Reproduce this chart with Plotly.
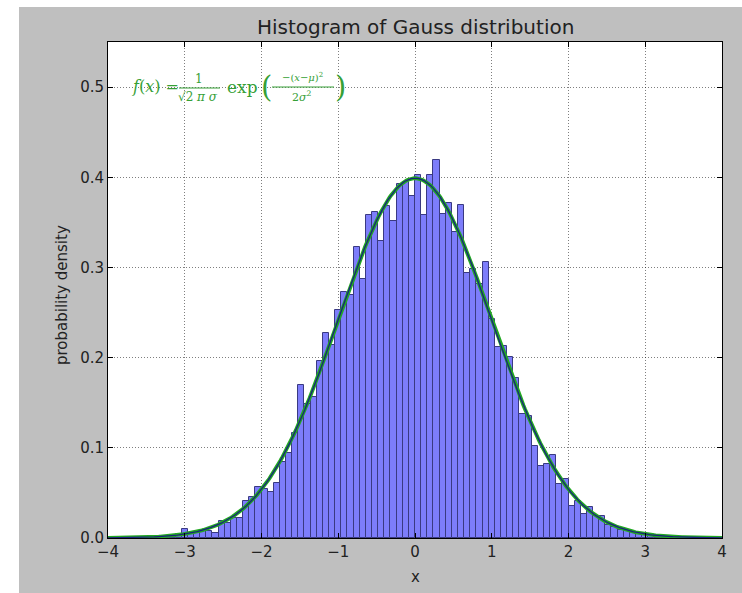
import numpy as np
import plotly.graph_objects as go

# ---------------- data ----------------
bin_start = -4.0
bin_width = 0.08
densities = [
    0, 0, 0, 0, 0, 0, 0, 0, 0.001, 0.001,
    0.002, 0.004, 0.010, 0.005, 0.007, 0.009, 0.008, 0.006, 0.019, 0.017,
    0.022, 0.022, 0.041, 0.046, 0.057, 0.054, 0.051, 0.061, 0.084, 0.094,
    0.116, 0.170, 0.149, 0.156, 0.196, 0.227, 0.214, 0.253, 0.273, 0.270,
    0.323, 0.287, 0.358, 0.361, 0.329, 0.368, 0.352, 0.393, 0.395, 0.379,
    0.402, 0.358, 0.402, 0.419, 0.359, 0.371, 0.339, 0.369, 0.294, 0.298,
    0.282, 0.306, 0.243, 0.212, 0.213, 0.201, 0.177, 0.138, 0.135, 0.102,
    0.080, 0.082, 0.092, 0.060, 0.065, 0.036, 0.041, 0.027, 0.034, 0.024,
    0.024, 0.014, 0.012, 0.009, 0.008, 0.007, 0.005, 0.003, 0.002, 0.001,
    0.001, 0, 0, 0, 0, 0, 0, 0, 0, 0,
]
mu = 0.0
sigma = 1.0
x_ticks = [-4, -3, -2, -1, 0, 1, 2, 3, 4]
y_ticks = [0.0, 0.1, 0.2, 0.3, 0.4, 0.5]

centers = bin_start + bin_width * (np.arange(len(densities)) + 0.5)
xs = np.linspace(-4, 4, 400)
pdf = 1.0 / (np.sqrt(2 * np.pi) * sigma) * np.exp(-(xs - mu) ** 2 / (2 * sigma ** 2))

# ---------------- layout helpers (pixel -> paper) ----------------
L, R, T, B = 108, 722, 42, 538
def px(xp):
    return (xp - L) / (R - L)
def py(yp):
    return (B - yp) / (B - T)

fig = go.Figure()
fig.add_trace(go.Bar(
    x=centers, y=densities, width=bin_width,
    marker=dict(color="#7d7dfb", line=dict(color="#3a3a82", width=1)),
    hoverinfo="x+y", showlegend=False,
))
fig.add_trace(go.Scatter(x=xs, y=pdf, mode="lines",
                         line=dict(color="#22a822", width=3.8), showlegend=False))
fig.add_trace(go.Scatter(x=xs, y=pdf, mode="lines",
                         line=dict(color="#1a237e", width=1.3), showlegend=False))

green = "#36a036"
serif = "DejaVu Serif, Liberation Serif, serif"
ann = []
def txt(s, xp, yp, size, xanchor="center"):
    ann.append(dict(text=s, x=px(xp), y=py(yp), xref="paper", yref="paper",
                    showarrow=False, xanchor=xanchor, yanchor="middle",
                    font=dict(family=serif, size=size, color=green)))

txt("<i>f</i>(<i>x</i>) =", 130, 87, 16, "left")
txt("1", 199, 79, 12)
txt("√2 <i>π σ</i>", 198, 97, 12)
txt("exp", 242, 87, 17)
txt("(", 266, 87, 29)
txt("−(<i>x</i>−<i>μ</i>)<sup>2</sup>", 302, 77, 10)
txt("2<i>σ</i><sup>2</sup>", 302, 97, 11)
txt(")", 340, 87, 29)

# axis labels and title as annotations
ann.append(dict(text="Histogram of Gauss distribution", x=0.5, y=py(27),
                xref="paper", yref="paper", showarrow=False,
                xanchor="center", yanchor="middle",
                font=dict(family="DejaVu Sans", size=20, color="#222")))
ann.append(dict(text="x", x=0.5, y=py(577), xref="paper", yref="paper",
                showarrow=False, xanchor="center", yanchor="middle",
                font=dict(family="DejaVu Sans", size=15, color="#222")))
ann.append(dict(text="probability density", x=px(62), y=py(295), xref="paper",
                yref="paper", showarrow=False, xanchor="center", yanchor="middle",
                textangle=-90, font=dict(family="DejaVu Sans", size=15, color="#222")))

shapes = [
    # white strips of the screenshot (left and top)
    dict(type="rect", xref="paper", yref="paper", x0=px(-5), x1=px(19), y0=py(600), y1=py(-5),
         fillcolor="white", line=dict(width=0), layer="below"),
    dict(type="rect", xref="paper", yref="paper", x0=px(-5), x1=px(750), y0=py(7), y1=py(-5),
         fillcolor="white", line=dict(width=0), layer="below"),
    # fraction bars
    dict(type="line", xref="paper", yref="paper", x0=px(179), x1=px(220), y0=py(88), y1=py(88),
         line=dict(color=green, width=1)),
    dict(type="line", xref="paper", yref="paper", x0=px(272), x1=px(334), y0=py(87), y1=py(87),
         line=dict(color=green, width=1)),
]

axis_common = dict(showline=True, linecolor="black", linewidth=1, mirror="ticks",
                   ticks="inside", ticklen=5, tickcolor="black",
                   showgrid=True, gridcolor="rgba(0,0,0,0.5)", gridwidth=1, griddash="1px,2px",
                   zeroline=False,
                   tickfont=dict(family="DejaVu Sans", size=15, color="#222"))

fig.update_layout(
    width=742, height=593,
    margin=dict(l=L, r=742 - R, t=T, b=593 - B, pad=0),
    paper_bgcolor="#bfbfbf", plot_bgcolor="white",
    bargap=0, showlegend=False,
    xaxis=dict(range=[-4, 4], tickvals=x_ticks, ticktext=[str(t).replace("-", "−") for t in x_ticks],
               **axis_common),
    yaxis=dict(range=[0, 0.55], tickvals=y_ticks, ticktext=[f"{t:.1f}" for t in y_ticks],
               **axis_common),
    annotations=ann, shapes=shapes,
)

fig.write_html("out.html", config={"displayModeBar": False},
               post_script="document.body.style.margin='0px';document.body.style.overflow='hidden';")
